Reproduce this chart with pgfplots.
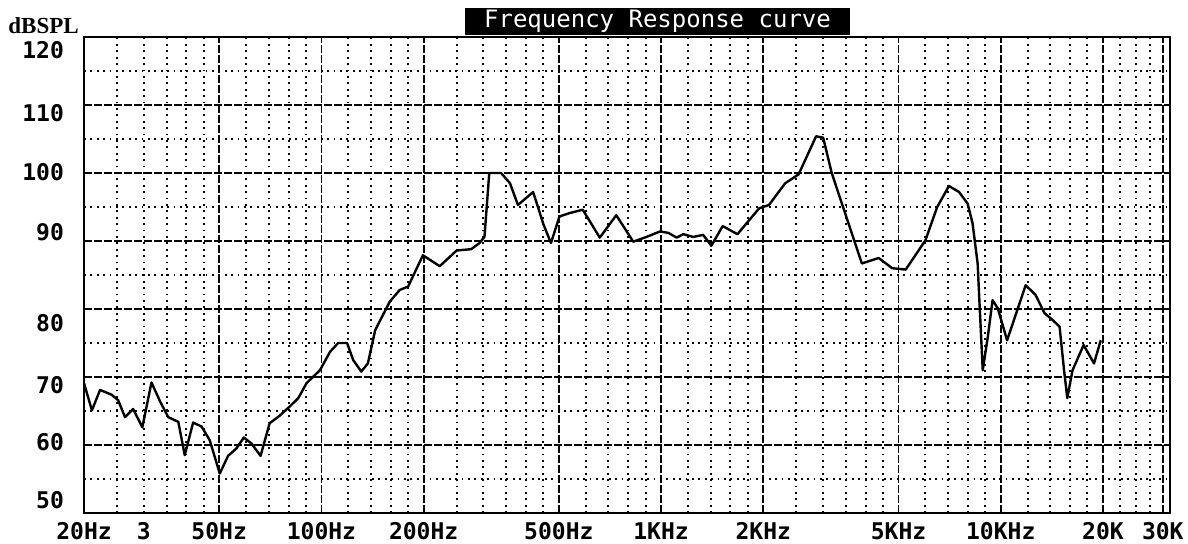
\documentclass[border=0pt]{standalone}
\usepackage{fontspec}
\setmainfont{Liberation Serif}
\newfontfamily\monof{DejaVu Sans Mono}
\usepackage{pgfplots}
\pgfplotsset{compat=1.18}
\newcommand\yl[2]{\raisebox{#1}[0pt][0pt]{#2}}

\begin{document}
\begin{tikzpicture}[x=0.5pt,y=0.5pt]
\useasboundingbox (0,0) rectangle (1188,543);
\begin{axis}[
  at={(42pt,15pt)}, anchor=south west,
  scale only axis, width=543pt, height=238pt,
  xmode=log, xmin=20, xmax=31500, ymin=50, ymax=120,
  axis line style={black, line width=1pt},
  xtick={50,100,200,500,1000,2000,5000,10000,20000,30000},
  xticklabels={50Hz,100Hz,200Hz,500Hz,1KHz,2KHz,5KHz,10KHz,20K,30K},
  extra x ticks={20,30},
  extra x tick labels={20Hz,3},
  extra x tick style={grid=none},
  minor xtick={25,30,35,40,45,60,70,80,90,120,140,160,180,250,300,350,400,450,600,700,800,900,1200,1400,1600,1800,2500,3000,3500,4000,4500,6000,7000,8000,9000,12000,14000,16000,18000,22500,25000,27500},
  ytick={50,60,70,80,90,100,110,120},
  yticklabels={\yl{2.5pt}{50},\yl{-2.5pt}{60},\yl{-8pt}{70},\yl{-11pt}{80},\yl{0.5pt}{90},\yl{-3.5pt}{100},\yl{-8pt}{110},\yl{-10.5pt}{120}},
  minor ytick={55,65,75,85,95,105,115},
  major tick length=0pt, minor tick length=0pt,
  grid=both,
  major grid style={black, line width=0.9pt, dash pattern=on 4pt off 1pt},
  minor grid style={black, line width=1pt, dash pattern=on 0.9pt off 2.3pt},
  tick label style={font=\fontsize{11.5}{12}\selectfont\monof\bfseries},
  yticklabel style={xshift=-6.5pt},
  xticklabel style={yshift=-1pt, text height=8.5pt, text depth=0pt},
]
\addplot[black, line width=1.2pt, line join=round] coordinates {
(20,69.1) (21.1,65.1) (22.3,68.1) (24.1,67.4) (25.2,66.6) (26.4,64.1) (27.9,65.3) (29.7,62.6)
(31.6,69.2) (33.5,66.4) (35.4,64.1) (37.9,63.4) (39.6,58.5) (41.9,63.3) (44.4,62.7) (46.9,60.7)
(50.2,55.8) (53.1,58.4) (56.2,59.5) (59.1,61.1) (62.3,60.2) (66.2,58.4) (70.4,63.2) (75.3,64.3)
(80.8,65.7) (85.5,66.9) (90.4,69.1) (99,71.0) (106,73.7) (112,75.0) (119,75.0) (124,72.5)
(131,70.8) (137,72.0) (144,76.9) (159,81.1) (170,82.8) (180,83.3) (188,85.3) (199,87.9)
(223,86.3) (250,88.6) (276,88.8) (292,89.7) (302,90.6) (312,100.0) (338,100.0) (359,98.5)
(379,95.3) (420,97.2) (434,95.0) (450,92.5) (474,89.7) (502,93.6) (537,94.1) (588,94.6)
(660,90.5) (738,93.8) (828,89.9) (906,90.6) (992,91.4) (1050,91.2) (1112,90.5) (1162,91.0)
(1244,90.6) (1330,90.9) (1406,89.3) (1518,92.2) (1678,91.0) (1944,94.8) (2078,95.3) (2320,98.5)
(2540,99.8) (2860,105.4) (3000,105.2) (3180,100.0) (3900,86.7) (4370,87.5) (4790,86.0) (5250,85.8)
(6000,90.1) (6500,95.0) (7040,98.1) (7540,97.2) (7990,95.5) (8260,92.6) (8550,86.7) (8660,80.8)
(8850,71.0) (9160,75.9) (9460,81.3) (9800,80.1) (10440,75.4) (11840,83.5) (12650,82.1) (13450,79.4)
(14200,78.4) (14900,77.4) (15360,71.0) (15700,66.9) (16270,71.0) (17540,74.7) (18820,72.0) (19700,75.4)
};
\end{axis}
\node[fill=black, text=white, font=\fontsize{12}{12}\selectfont\monof, minimum width=192.5pt, minimum height=13.5pt, inner sep=0pt] at (657.5,521.5) {Frequency Response curve};
\node[font=\fontsize{11.5}{12}\selectfont\bfseries, anchor=west, inner sep=0pt] at (8,517.5) {dBSPL};
\end{tikzpicture}
\end{document}
